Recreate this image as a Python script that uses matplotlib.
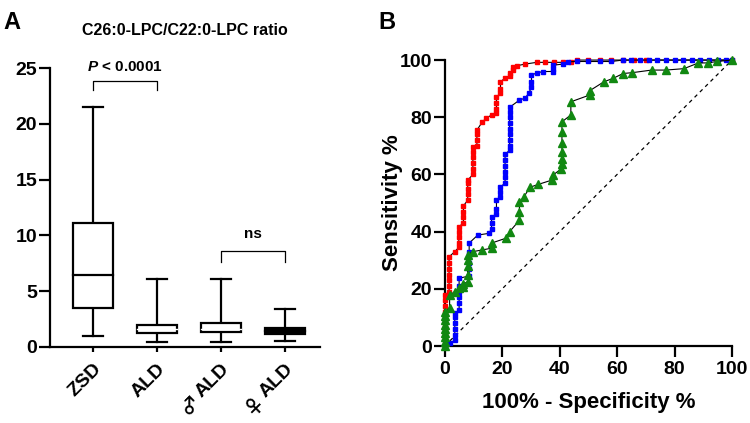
import numpy as np
import matplotlib.pyplot as plt
import matplotlib.transforms as mtransforms

plt.rcParams['font.family'] = ['Liberation Sans', 'DejaVu Sans']
plt.rcParams['font.weight'] = 'bold'
plt.rcParams['mathtext.fontset'] = 'custom'
plt.rcParams['mathtext.it'] = 'Liberation Sans:italic:bold'
plt.rcParams['mathtext.rm'] = 'Liberation Sans:bold'

# panel A: box plot summaries (min, q1, median, q3, max)
groups = ['ZSD', 'ALD', 'ALD', 'ALD']
symbols = ['', '', '\u2642', '\u2640']
mins = [1.0, 0.47, 0.47, 0.56]
q1s = [3.47, 1.2, 1.3, 1.15]
meds = [6.4, 1.6, 1.6, 1.45]
q3s = [11.15, 1.95, 2.1, 1.7]
maxs = [21.5, 6.05, 6.05, 3.4]

# panel B: ROC curves (100% - specificity, sensitivity)
red_x = [0]*10 + [1.5]*7 + [3.5] + [4.9]*5 + [6.5]*4 + [8]*5 + [9.8]*6 + [11.2]*4 + \
        [13.1, 14.5, 16.3] + [18]*4 + [19.4]*3 + [21, 22.6, 22.6, 23.6, 23.6, 25, 28] + \
        [32, 35, 38, 41, 44, 46, 50, 54, 58, 62, 66, 70, 100]
red_y = [0, 2, 4, 6, 8, 10, 12, 14, 16, 17.8,
         19, 21, 23, 25, 27, 29, 31.2,
         33,
         34.5, 36, 38, 40, 41.7,
         43, 45, 47, 49,
         51, 53, 55, 57, 58,
         60, 62, 64, 66, 68, 69.6,
         70, 72, 74, 75.5,
         78.4, 79.7, 80.8,
         81.5, 83, 85, 87,
         88.5, 90, 92.4,
         93.7, 94.5, 95.5, 96.5, 97.6, 98, 98.6,
         99.2, 99.2, 99.2, 99.2, 99.2, 100, 100, 100, 100, 100, 100, 100, 100]

blue_x = [0, 1.7] + [3.5]*6 + [5]*6 + [8.5]*6 + [11.5, 15.4] + [16.3]*3 + [18]*3 + \
         [19.4]*3 + [21]*6 + [22.6]*9 + [26, 28, 29.3] + [30.2]*3 + [32, 34.3] + \
         [37.7]*3 + [41.2, 42.9, 46, 50, 54, 58, 62, 65, 68, 71, 74, 77, 80, 83,
                     86, 89, 92, 95, 98, 100]
blue_y = [0, 1,
          2, 4, 6, 8, 10, 11.5,
          12.5, 15, 17, 19, 21, 23.7,
          24.5, 27, 29, 31, 33, 36,
          38.8, 39.4,
          41, 43, 45,
          46, 48, 51,
          52, 54, 55.6,
          57, 59, 61, 63, 65, 67,
          68.5, 70, 72, 74, 76, 78, 80, 82, 83.5,
          86, 86.7, 88.5,
          90.5, 92.5, 94.7,
          95.5, 96,
          96, 97, 98.2,
          98.6, 99.4, 99.5, 99.5, 99.5, 99.5, 100, 100, 100, 100, 100, 100, 100, 100,
          100, 100, 100, 100, 100, 100]

green_x = [0]*9 + [1.7]*2 + [3.5, 5, 6.3, 6.3] + [8]*5 + [9.8, 13, 16.3, 16.3, 21.3, 22.6] + \
          [26]*3 + [27.5, 29.6, 32.5, 37.2, 37.7, 40.6] + [40.8]*6 + [43.9]*2 + [50.5]*2 + \
          [55.4, 58.6, 62.1, 65.3, 72, 76.9, 83.3, 88.3, 91.5, 94.7, 100]
green_y = [0, 1.5, 3, 4.5, 6, 7.5, 9, 10.5, 12,
           13.3, 17.8,
           19, 20.3, 20.5, 21.6,
           22.5, 25, 28, 30, 31.8,
           33, 33.6, 34.2, 36, 37.7, 40,
           44, 47, 50.5,
           52, 55.5, 56.5, 58, 59.8, 62,
           63.5, 65.5, 68, 71, 75, 78.4,
           80.8, 85.4,
           87.8, 89.3,
           92.4, 93.6, 95.3, 95.6, 96.5, 96.5, 97, 99, 99, 99.5, 100]

fig = plt.figure(figsize=(7.5, 4.23), dpi=100)

# ---------- panel A ----------
axA = fig.add_axes([0.067, 0.180, 0.36, 0.659])
pos = np.arange(len(groups))
bw = 0.62
for i in pos:
    fc = 'black' if i == 3 else 'white'
    axA.add_patch(plt.Rectangle((i - bw/2, q1s[i]), bw, q3s[i] - q1s[i],
                                facecolor=fc, edgecolor='black', lw=1.6, zorder=3))
    mc = 'white' if i in (1, 2) else 'black'
    axA.plot([i - bw/2, i + bw/2], [meds[i], meds[i]], color=mc if i != 0 else 'black',
             lw=1.0 if i in (1, 2) else 1.6, zorder=4)
    axA.plot([i, i], [q3s[i], maxs[i]], color='black', lw=1.6, zorder=2)
    axA.plot([i, i], [mins[i], q1s[i]], color='black', lw=1.6, zorder=2)
    axA.plot([i - bw/4, i + bw/4], [maxs[i], maxs[i]], color='black', lw=1.6)
    axA.plot([i - bw/4, i + bw/4], [mins[i], mins[i]], color='black', lw=1.6)

# significance brackets
axA.plot([0, 0, 1, 1], [23.0, 23.8, 23.8, 23.0], color='black', lw=0.9, clip_on=False)
axA.text(0.5, 24.5, '$\\it{P}$ < 0.0001', ha='center', va='bottom', fontsize=11,
         fontweight='bold')
axA.plot([2, 2, 3, 3], [7.65, 8.6, 8.6, 7.65], color='black', lw=0.9, clip_on=False)
axA.text(2.5, 9.5, 'ns', ha='center', va='bottom', fontsize=11, fontweight='bold')

axA.set_xlim(-0.67, 3.55)
axA.set_ylim(0, 25)
axA.set_yticks([0, 5, 10, 15, 20, 25])
axA.set_xticks(pos)
axA.set_xticklabels(groups, rotation=45, ha='right', rotation_mode='anchor',
                    fontsize=14, fontweight='bold')
# sex symbols drawn as separate rotated text in front of "ALD"
for i, sym in enumerate(symbols):
    if not sym:
        continue
    off = mtransforms.ScaledTranslation(-31 * 0.707 / 72, (-10 - 31 * 0.707) / 72,
                                        fig.dpi_scale_trans)
    axA.text(i, 0, sym, transform=axA.get_xaxis_transform() + off, rotation=45,
             rotation_mode='anchor', ha='right', va='top', fontsize=14,
             family=['Noto Sans CJK JP', 'DejaVu Sans'], fontweight='bold')
for lab in axA.get_yticklabels():
    lab.set_fontsize(14)
    lab.set_fontweight('bold')
for s in ['top', 'right']:
    axA.spines[s].set_visible(False)
for s in ['left', 'bottom']:
    axA.spines[s].set_linewidth(1.6)
axA.tick_params(width=1.6)
axA.tick_params(axis='x', length=3.5, pad=6)
axA.tick_params(axis='y', length=8, pad=1.5)
axA.set_title('C26:0-LPC/C22:0-LPC ratio', fontsize=11.5, fontweight='bold', pad=24)
fig.text(0.005, 0.975, 'A', fontsize=17, fontweight='bold', va='top')

# ---------- panel B ----------
axB = fig.add_axes([0.593, 0.182, 0.383, 0.676])
axB.plot([0, 100], [0, 100], color='black', lw=0.9, ls=(0, (3, 3)))
axB.plot(red_x, red_y, color='black', lw=0.8, marker='s', ms=2.6, mfc='#ff0000',
         mec='#ff0000', clip_on=False, zorder=3)
axB.plot(blue_x, blue_y, color='black', lw=0.8, marker='s', ms=3.4, mfc='#0000ff',
         mec='#0000ff', clip_on=False, zorder=4)
axB.plot(green_x, green_y, color='black', lw=0.8, marker='^', ms=5.5, mfc='#118811',
         mec='#118811', clip_on=False, zorder=5)
axB.set_xlim(0, 100)
axB.set_ylim(0, 100)
axB.set_xticks(range(0, 101, 20))
axB.set_yticks(range(0, 101, 20))
for lab in axB.get_xticklabels() + axB.get_yticklabels():
    lab.set_fontsize(14)
    lab.set_fontweight('bold')
for s in ['top', 'right']:
    axB.spines[s].set_visible(False)
for s in ['left', 'bottom']:
    axB.spines[s].set_linewidth(1.6)
axB.tick_params(width=1.6, length=8)
axB.tick_params(axis='x', pad=3)
axB.tick_params(axis='y', pad=1)
axB.set_xlabel('100% - Specificity %', fontsize=16, fontweight='bold', labelpad=10)
axB.set_ylabel('Sensitivity %', fontsize=16, fontweight='bold')
axB.yaxis.set_label_coords(-0.145, 0.5)
fig.text(0.504, 0.975, 'B', fontsize=17, fontweight='bold', va='top')

fig.savefig('out.png', dpi=100)
